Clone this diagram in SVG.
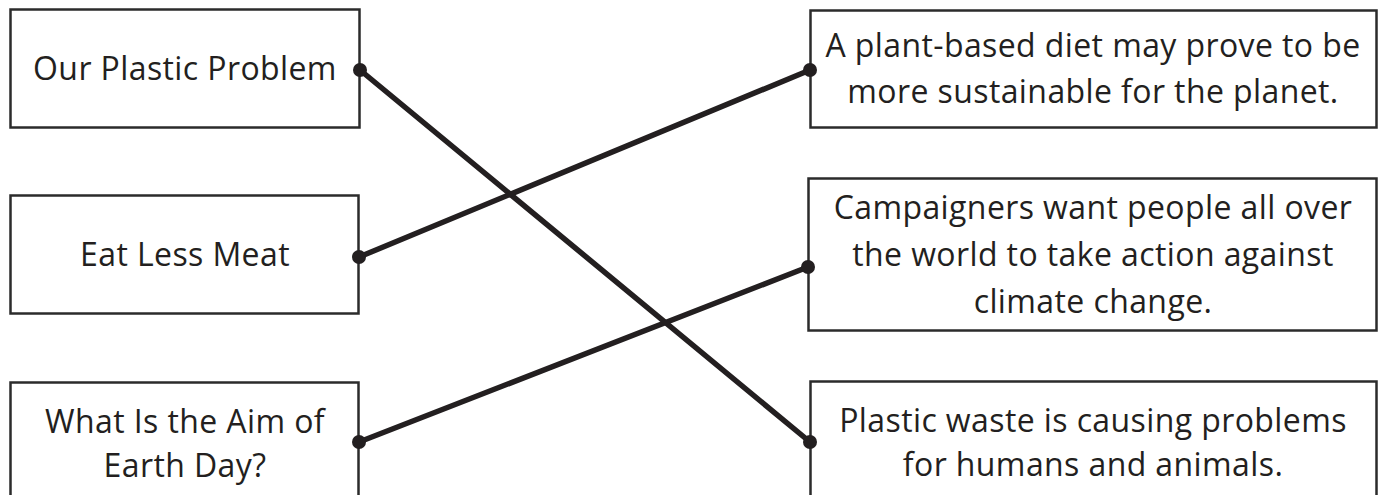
<svg xmlns="http://www.w3.org/2000/svg" width="1386" height="495" viewBox="0 0 1386 495">
  <style>
    .box { fill: #ffffff; stroke: #2b2b2b; stroke-width: 2.5; }
    .lbl { font-family: "Open Sans", "Noto Sans", "Liberation Sans", sans-serif; font-size: 32px; letter-spacing: 0.4px; fill: #231f20; text-anchor: middle; }
    .conn { stroke: #231f20; stroke-width: 5.5; fill: none; stroke-linecap: round; }
    .dot { fill: #231f20; }
  </style>
  <rect width="1386" height="495" fill="#ffffff"/>
  <g id="left-1">
    <rect class="box" x="10.5" y="9.5" width="349" height="118"/>
    <text class="lbl" x="185" y="80">Our Plastic Problem</text>
  </g>
  <g id="left-2">
    <rect class="box" x="10.5" y="195.5" width="348" height="118"/>
    <text class="lbl" x="185" y="266">Eat Less Meat</text>
  </g>
  <g id="left-3">
    <rect class="box" x="10.5" y="382.5" width="348" height="130"/>
    <text class="lbl" x="185" y="433">What Is the Aim of</text>
    <text class="lbl" x="185" y="477">Earth Day?</text>
  </g>
  <g id="right-1">
    <rect class="box" x="810.5" y="10.5" width="566" height="117"/>
    <text class="lbl" x="1093" y="57">A plant-based diet may prove to be</text>
    <text class="lbl" x="1093" y="103">more sustainable for the planet.</text>
  </g>
  <g id="right-2">
    <rect class="box" x="808.5" y="178.5" width="568" height="152"/>
    <text class="lbl" x="1093" y="219">Campaigners want people all over</text>
    <text class="lbl" x="1093" y="266">the world to take action against</text>
    <text class="lbl" x="1093" y="313">climate change.</text>
  </g>
  <g id="right-3">
    <rect class="box" x="810.5" y="381.5" width="566" height="130"/>
    <text class="lbl" x="1093" y="432">Plastic waste is causing problems</text>
    <text class="lbl" x="1093" y="476">for humans and animals.</text>
  </g>
  <g id="connectors">
    <line class="conn" x1="360" y1="70" x2="810" y2="442"/>
    <line class="conn" x1="359" y1="257" x2="810" y2="70"/>
    <line class="conn" x1="359" y1="442" x2="808" y2="267"/>
    <circle class="dot" cx="360" cy="70" r="7"/>
    <circle class="dot" cx="810" cy="442" r="7"/>
    <circle class="dot" cx="359" cy="257" r="7"/>
    <circle class="dot" cx="810" cy="70" r="7"/>
    <circle class="dot" cx="359" cy="442" r="7"/>
    <circle class="dot" cx="808" cy="267" r="7"/>
  </g>
</svg>
